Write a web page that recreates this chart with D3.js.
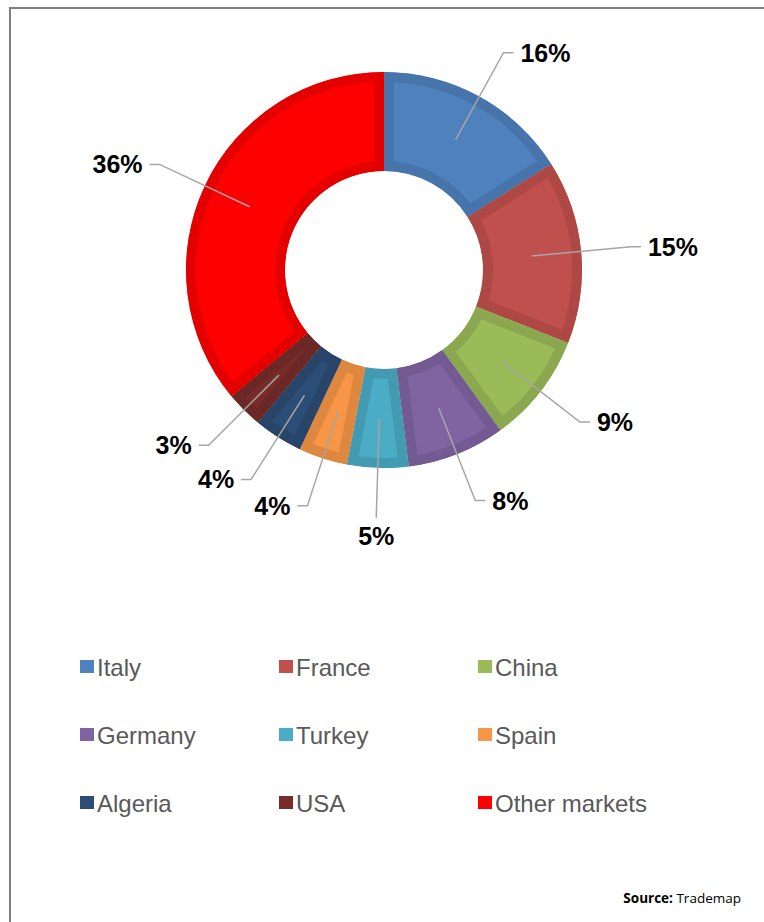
<!DOCTYPE html>
<html>
<head>
<meta charset="utf-8">
<script src="https://cdn.jsdelivr.net/npm/d3@7"></script>
<style>
  body { margin: 0; background: #fff; }
  svg { display: block; }
  .pct { font-family: Arial, "Liberation Sans", sans-serif; font-weight: bold; font-size: 25px; fill: #000; }
  .legend text { font-family: Arial, "Liberation Sans", sans-serif; font-size: 24px; fill: #595959; }
  .source { font-family: "Open Sans", "Noto Sans", sans-serif; font-size: 13.5px; fill: #000; }
</style>
</head>
<body>
<div id="chart"></div>
<script>
// data (share of exports, %)
var markets = ["Italy", "France", "China", "Germany", "Turkey", "Spain", "Algeria", "USA", "Other markets"];
var shares = [16, 15, 9, 8, 5, 4, 4, 3, 36];
var colors = ["#4F81BD", "#C0504D", "#9BBB59", "#8064A2", "#4BACC6", "#F79646", "#2C4D75", "#772C2A", "#FF0000"];

var width = 764, height = 922;
var cx = 384, cy = 270,
    outerR = 198, innerR = 99,
    labelR = 248;

var svg = d3.select("#chart").append("svg")
    .attr("width", width)
    .attr("height", height);

// frame around the chart (runs off the right and bottom of the page)
svg.append("rect")
    .attr("x", 10).attr("y", 8)
    .attr("width", width + 20).attr("height", height + 20)
    .attr("fill", "none")
    .attr("stroke", "#808080")
    .attr("stroke-width", 2);

var data = markets.map(function(m, i) { return {name: m, value: shares[i], color: colors[i]}; });

var pie = d3.pie().value(function(d) { return d.value; }).sort(null);
var arc = d3.arc().innerRadius(innerR).outerRadius(outerR);

var g = svg.append("g").attr("transform", "translate(" + cx + "," + cy + ")");
var arcs = pie(data);

// clip paths so the darker edge only shows inside each slice
var defs = svg.append("defs");
defs.selectAll("clipPath")
    .data(arcs).enter()
    .append("clipPath")
        .attr("id", function(d, i) { return "clip" + i; })
    .append("path")
        .attr("d", arc);

g.selectAll(".slice")
    .data(arcs).enter()
    .append("path")
        .attr("class", "slice")
        .attr("d", arc)
        .attr("clip-path", function(d, i) { return "url(#clip" + i + ")"; })
        .attr("fill", function(d) { return d.data.color; })
        .attr("stroke", function(d) { return d3.color(d.data.color).darker(0.3); })
        .attr("stroke-width", 20)
        .attr("stroke-linejoin", "miter");

// leader lines + percent labels
arcs.forEach(function(d) {
    var a = (d.startAngle + d.endAngle) / 2;
    var start = arc.centroid(d);
    var ex = Math.sin(a) * labelR, ey = -Math.cos(a) * labelR;
    var s = Math.sin(a);
    var pts, tx, ty, anchor;
    if (Math.abs(s) < 0.1) {
        // straight down, text centred under the line
        pts = [start, [ex, ey]];
        tx = ex; ty = ey + 18; anchor = "middle";
    } else {
        var dir = s > 0 ? 1 : -1;
        pts = [start, [ex, ey], [ex + dir * 10, ey]];
        tx = ex + dir * 17; ty = ey; anchor = s > 0 ? "start" : "end";
    }
    g.append("path")
        .attr("d", d3.line()(pts))
        .attr("fill", "none")
        .attr("stroke", "#A6A6A6")
        .attr("stroke-width", 1.5);
    g.append("text")
        .attr("class", "pct")
        .attr("x", tx)
        .attr("y", ty)
        .attr("dy", "0.36em")
        .style("text-anchor", anchor)
        .text(d.data.value + "%");
});

// legend, 3 columns
var legend = svg.append("g").attr("class", "legend");
var colX = d3.scalePoint().domain([0, 1, 2]).range([80, 478]);
var rowY = d3.scalePoint().domain([0, 1, 2]).range([667, 803]);

var items = legend.selectAll("g")
    .data(data).enter()
    .append("g")
        .attr("transform", function(d, i) { return "translate(" + colX(i % 3) + "," + rowY(Math.floor(i / 3)) + ")"; });

items.append("rect")
    .attr("x", 0).attr("y", -7)
    .attr("width", 14).attr("height", 13)
    .attr("fill", function(d) { return d.color; });

items.append("text")
    .attr("x", 17)
    .attr("y", 0)
    .attr("dy", "0.36em")
    .text(function(d) { return d.name; });

// source note
var src = svg.append("text")
    .attr("class", "source")
    .attr("x", 741)
    .attr("y", 903)
    .style("text-anchor", "end");
src.append("tspan").style("font-weight", "bold").text("Source: ");
src.append("tspan").text("Trademap");
</script>
</body>
</html>
